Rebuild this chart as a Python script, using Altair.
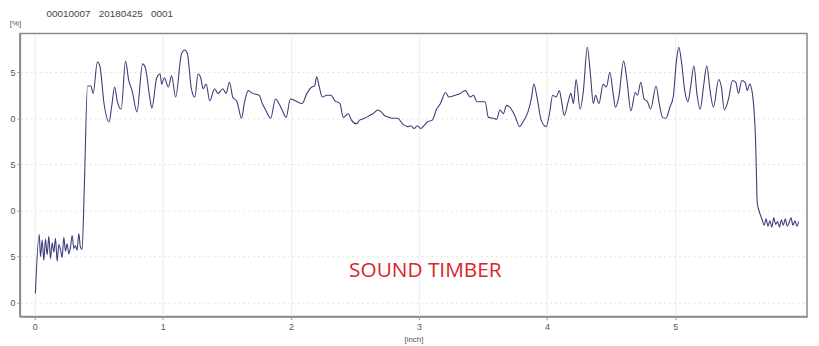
import altair as alt
import pandas as pd

# ---- data ----
start_x = [0.005, 0.035]
start_y = [1.0, 7.4]

noise1_x = [0.045, 0.058, 0.071, 0.084, 0.097, 0.110, 0.123, 0.136, 0.149, 0.162,
            0.175, 0.188, 0.201, 0.214, 0.227, 0.240, 0.253, 0.266, 0.279, 0.292,
            0.305, 0.318, 0.331, 0.344, 0.357, 0.370]
noise1_y = [5.0, 6.8, 4.6, 6.9, 5.2, 7.2, 4.8, 6.5, 5.5, 7.0,
            4.5, 6.3, 5.8, 4.9, 7.1, 5.6, 6.4, 5.3, 6.0, 7.3,
            5.9, 6.2, 5.7, 7.5, 6.0, 5.8]

main_x = [0.386, 0.412, 0.438, 0.456, 0.489, 0.508, 0.541, 0.580, 0.600, 0.624,
          0.644, 0.675, 0.709, 0.734, 0.760, 0.798, 0.842, 0.863, 0.902, 0.914,
          0.953, 0.979, 0.991, 1.012, 1.043, 1.069, 1.100, 1.146, 1.172, 1.192,
          1.223, 1.250, 1.275, 1.296, 1.314, 1.339, 1.366, 1.404, 1.430, 1.468,
          1.494, 1.520, 1.546, 1.579, 1.615, 1.636, 1.667, 1.700, 1.752, 1.777,
          1.803, 1.842, 1.880, 1.906, 1.932, 1.963, 1.996, 2.035, 2.087, 2.125,
          2.164, 2.185, 2.202, 2.220, 2.246, 2.280, 2.313, 2.344, 2.383, 2.409,
          2.447, 2.473, 2.512, 2.537, 2.576, 2.614, 2.641, 2.679, 2.705, 2.730,
          2.769, 2.795, 2.834, 2.872, 2.911, 2.937, 2.962, 2.988, 3.014, 3.039,
          3.066, 3.104, 3.138, 3.168, 3.207, 3.233, 3.284, 3.323, 3.362, 3.400,
          3.426, 3.452, 3.491, 3.516, 3.542, 3.580, 3.607, 3.632, 3.658, 3.684,
          3.709, 3.748, 3.787, 3.812, 3.851, 3.877, 3.897, 3.924, 3.954, 3.993,
          4.019, 4.044, 4.070, 4.096, 4.114, 4.134, 4.165, 4.186, 4.206, 4.227,
          4.258, 4.284, 4.314, 4.341, 4.361, 4.379, 4.405, 4.438, 4.464, 4.490,
          4.516, 4.534, 4.560, 4.598, 4.624, 4.655, 4.689, 4.706, 4.732, 4.758,
          4.784, 4.809, 4.851, 4.876, 4.902, 4.928, 4.959, 4.985, 5.010, 5.029,
          5.049, 5.075, 5.100, 5.121, 5.147, 5.170, 5.196, 5.224, 5.247, 5.273,
          5.299, 5.340, 5.361, 5.384, 5.417, 5.448, 5.474, 5.495, 5.520, 5.546,
          5.564, 5.582, 5.603, 5.628, 5.634, 5.641, 5.659, 5.680]
main_y = [12.0, 23.5, 23.5, 22.7, 26.1, 25.7, 21.6, 19.6, 21.2, 23.4,
          21.9, 21.0, 26.2, 24.1, 23.0, 20.7, 25.9, 25.5, 21.9, 21.1,
          24.4, 24.8, 23.7, 24.4, 23.4, 24.6, 22.3, 27.0, 27.4, 27.0,
          23.2, 22.3, 24.8, 24.4, 23.2, 23.7, 21.9, 23.2, 22.7, 23.2,
          22.7, 23.9, 22.3, 21.8, 20.0, 21.6, 23.0, 22.7, 22.5, 21.6,
          20.9, 20.0, 22.1, 21.6, 20.9, 20.1, 22.1, 21.9, 21.6, 22.7,
          23.4, 23.5, 24.5, 23.5, 22.3, 22.5, 22.5, 21.9, 21.6, 20.1,
          20.5, 19.8, 19.4, 19.8, 20.0, 20.3, 20.5, 20.9, 20.7, 20.3,
          20.1, 20.0, 20.0, 19.4, 19.1, 19.2, 18.9, 19.2, 18.9, 19.2,
          19.6, 19.8, 21.0, 21.6, 22.8, 22.3, 22.5, 22.7, 23.0, 22.3,
          22.5, 21.8, 21.8, 21.8, 20.1, 20.0, 19.9, 20.9, 20.5, 21.4,
          21.2, 20.3, 19.1, 19.6, 20.7, 22.1, 23.7, 22.1, 19.8, 19.1,
          20.5, 22.5, 22.3, 23.0, 21.8, 20.3, 21.8, 22.7, 21.6, 24.2,
          21.0, 23.0, 27.7, 24.4, 21.6, 22.5, 21.6, 23.7, 23.4, 25.0,
          22.7, 21.2, 22.3, 26.2, 24.1, 20.8, 22.8, 22.5, 23.9, 22.1,
          21.8, 21.0, 23.5, 21.6, 20.1, 20.0, 21.2, 22.3, 26.2, 27.7,
          26.2, 23.0, 21.8, 23.4, 25.7, 22.7, 21.0, 23.7, 25.7, 23.0,
          21.2, 24.2, 23.4, 20.9, 22.1, 24.1, 23.9, 22.7, 24.1, 23.9,
          23.0, 23.7, 22.7, 17.6, 14.4, 10.9, 9.8, 9.0]

noise2_x = [5.695, 5.710, 5.725, 5.740, 5.755, 5.770, 5.785, 5.800, 5.815, 5.830,
            5.845, 5.860, 5.875, 5.890, 5.905, 5.920, 5.935, 5.950, 5.965]
noise2_y = [8.4, 9.1, 8.3, 8.9, 8.2, 9.2, 8.5, 8.8, 8.2, 9.0,
            8.4, 9.1, 8.3, 8.7, 9.2, 8.4, 8.9, 8.3, 8.8]

x_ticks = [0, 1, 2, 3, 4, 5]
y_ticks = [0, 5, 10, 15, 20, 25]

NB = "\u00a0"
header = "00010007" + NB * 3 + "20180425" + NB * 3 + "0001"
label_text = "SOUND TIMBER"
label_x = [3.05]
label_y = [3.45]

xs = start_x + noise1_x + main_x + noise2_x
ys = start_y + noise1_y + main_y + noise2_y
df = pd.DataFrame({"x": xs, "y": ys, "i": list(range(len(xs)))})

xscale = alt.Scale(domain=[-0.116, 6.03], nice=False, zero=False)
yscale = alt.Scale(domain=[-1.5, 29.2], nice=False, zero=False)

line = alt.Chart(df).mark_line(color="#3d3d7a", strokeWidth=1.1,
                               interpolate="monotone").encode(
    x=alt.X("x:Q", scale=xscale,
            axis=alt.Axis(values=x_ticks, format="d", title="[inch]",
                          titleFontSize=8, titleFontWeight="normal",
                          titleColor="#555", titleY=23, titleBaseline="middle",
                          labelFontSize=9, labelColor="#555", labelPadding=3,
                          tickSize=3, tickColor="#999", domainColor="#8a8a8a",
                          domainWidth=1.5, grid=True, gridColor="#ececec",
                          gridWidth=1, labelFont="Liberation Sans",
                          titleFont="Liberation Sans")),
    y=alt.Y("y:Q", scale=yscale,
            axis=alt.Axis(values=y_ticks, title="[%]", titleAngle=0,
                          titleFontSize=8, titleFontWeight="normal",
                          titleColor="#555", titleX=-5, titleY=-10,
                          titleAlign="center", titleBaseline="middle",
                          labelExpr="'' + (datum.value % 10)",
                          labelFontSize=9, labelColor="#555", labelPadding=2,
                          tickSize=3, tickColor="#999", domainColor="#8a8a8a",
                          domainWidth=1.5, grid=True, gridColor="#e2e2e2",
                          gridDash=[2, 3], gridWidth=1,
                          labelFont="Liberation Sans",
                          titleFont="Liberation Sans")),
    order="i:Q",
)

lab_df = pd.DataFrame({"x": label_x, "y": label_y, "t": [label_text]})
label = alt.Chart(lab_df).mark_text(
    color="#d8262b", fontSize=21, font="Open Sans", align="center",
    baseline="middle").encode(
    x=alt.X("x:Q", scale=xscale), y=alt.Y("y:Q", scale=yscale), text="t:N")

head_df = pd.DataFrame({"t": [header]})
head = alt.Chart(head_df).mark_text(
    color="#444", fontSize=10, font="Liberation Sans", align="left",
    baseline="middle").encode(
    x=alt.value(27), y=alt.value(-20), text="t:N")

chart = alt.layer(line, label, head).properties(
    width=795, height=286,
    padding={"left": 12, "top": 24, "right": 4, "bottom": 28},
    autosize=alt.AutoSizeParams(type="none"),
).configure_view(stroke="#8a8a8a", strokeWidth=1.5)

chart.save("out.html", embed_options={"renderer": "svg", "actions": False})
